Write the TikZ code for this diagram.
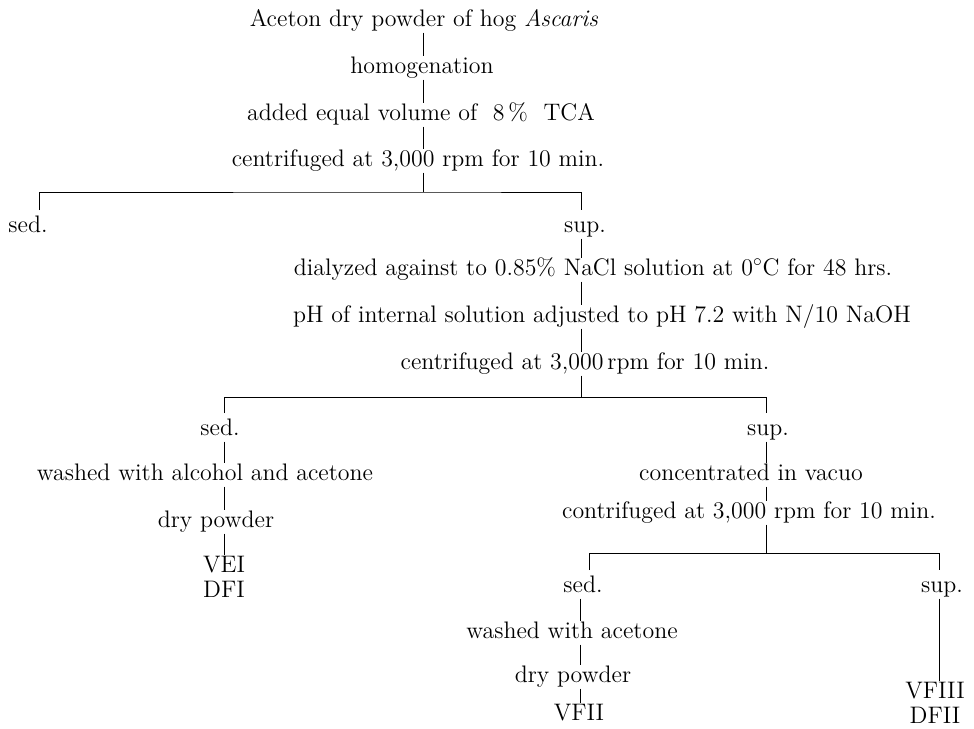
\documentclass[tikz,border=0pt]{standalone}
\usepackage{tikz}
\usetikzlibrary{positioning,calc}

\begin{document}
\begin{tikzpicture}[x=0.02cm,y=-0.02cm,
    stage/.style={inner sep=0.5pt,text height=9pt,text depth=2.8pt,font=\fontsize{13.6}{14}\selectfont},
    final/.style={inner sep=0.5pt,align=center,font=\fontsize{13.6}{14}\selectfont},
    link/.style={line width=0.5pt}]
    % Fractionation scheme
    \useasboundingbox (0,0) rectangle (974,728);

    % first centrifugation
    \node[stage] (top) at (424,21) {Aceton dry powder of hog \textit{Ascaris}};
    \node[stage] (homog) at (422,68) {homogenation};
    \node[stage] (tca) at (421,115) {added equal volume of~ 8\,\%~ TCA};
    \node[stage] (cent1) at (418,161) {centrifuged at 3,000 rpm for 10 min.};
    \coordinate (br1) at (423,192);
    \coordinate (l1) at (39,192);
    \coordinate (r1) at (581,192);
    \node[stage] (sed1) at (28,227) {sed.};
    \node[stage] (sup1) at (585,227) {sup.};

    \draw[link] (top.south -| br1) -- (homog.north -| br1);
    \draw[link] (homog.south -| br1) -- (tca.north -| br1);
    \draw[link] (tca.south -| br1) -- (cent1.north -| br1);
    \draw[link] (cent1.south -| br1) -- (br1);
    \draw[link,shorten <=3pt,shorten >=3pt] (sed1.north -| l1) |- (br1) -| (sup1.north -| r1);

    % second centrifugation
    \node[stage] (dial) at (593,270) {dialyzed against to 0.85\% NaCl solution at 0$^\circ$C for 48 hrs.};
    \node[stage] (ph) at (602,317) {pH of internal solution adjusted to pH 7.2 with N/10 NaOH};
    \node[stage] (cent2) at (585,364) {centrifuged at 3,000\,rpm for 10 min.};
    \coordinate (br2) at (581,397);
    \coordinate (l2) at (224,397);
    \coordinate (r2) at (766,397);
    \node[stage] (sed2) at (220,430) {sed.};
    \node[stage] (sup2) at (768,430) {sup.};

    \draw[link] (sup1.south -| br2) -- (dial.north -| br2);
    \draw[link] (dial.south -| br2) -- (ph.north -| br2);
    \draw[link] (ph.south -| br2) -- (cent2.north -| br2);
    \draw[link] (cent2.south -| br2) -- (br2);
    \draw[link,shorten <=3pt,shorten >=3pt] (sed2.north -| l2) |- (br2) -| (sup2.north -| r2);

    % sediment branch
    \node[stage] (wash1) at (205,475) {washed with alcohol and acetone};
    \node[stage] (dry1) at (216,522) {dry powder};
    \node[final] (vf1) at (224,577) {VEI\\DFI};

    \draw[link] (sed2.south -| l2) -- (wash1.north -| l2);
    \draw[link] (wash1.south -| l2) -- (dry1.north -| l2);
    \draw[link] (dry1.south -| l2) -- (vf1.north -| l2);

    % supernatant branch
    \node[stage] (conc) at (751,475) {concentrated in vacuo};
    \node[stage] (cent3) at (749,513) {contrifuged at 3,000 rpm for 10 min.};
    \coordinate (br3) at (766,553);
    \coordinate (l3) at (589,553);
    \coordinate (r3) at (939,553);
    \node[stage] (sed3) at (583,587) {sed.};
    \node[stage] (sup3) at (942,587) {sup.};

    \draw[link] (sup2.south -| r2) -- (conc.north -| r2);
    \draw[link] (conc.south -| r2) -- (cent3.north -| r2);
    \draw[link] (cent3.south -| br3) -- (br3);
    \draw[link,shorten <=3pt,shorten >=3pt] (sed3.north -| l3) |- (br3) -| (sup3.north -| r3);

    % last fractions
    \coordinate (c3) at (580,600);
    \node[stage] (wash2) at (572,633) {washed with acetone};
    \node[stage] (dry2) at (573,677) {dry powder};
    \node[stage] (vf2) at (579,715) {VFII};
    \node[final] (vf3) at (935,703) {VFIII\\DFII};

    \draw[link] (sed3.south -| c3) -- (wash2.north -| c3);
    \draw[link] (wash2.south -| c3) -- (dry2.north -| c3);
    \draw[link] (dry2.south -| c3) -- (vf2.north -| c3);
    \draw[link] (sup3.south -| r3) -- (vf3.north -| r3);
\end{tikzpicture}
\end{document}
